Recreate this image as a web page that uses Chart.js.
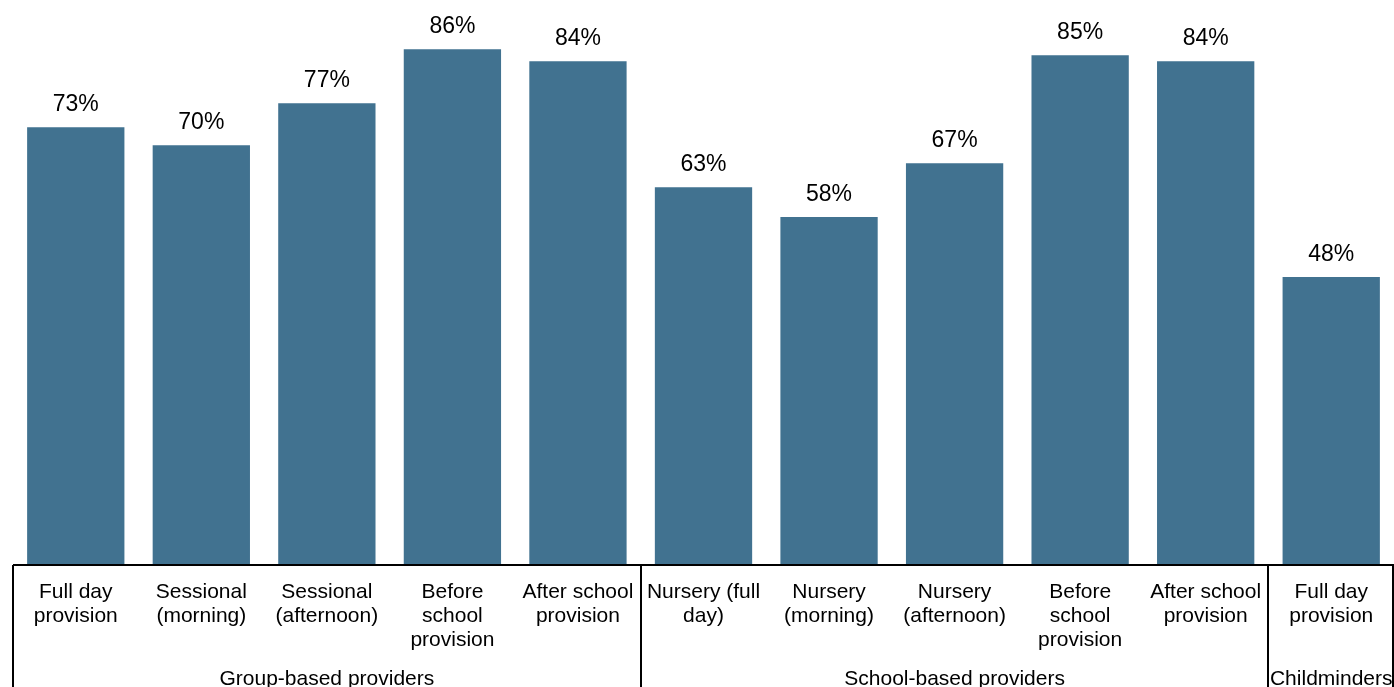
<!DOCTYPE html>
<html lang="en">
<head>
    <meta charset="UTF-8">
    <title>Provision by provider type</title>
    <script src="https://cdn.jsdelivr.net/npm/chart.js"></script>
    <style>
        html, body { margin: 0; padding: 0; background: #fff; }
        #wrap { width: 1394px; height: 687px; }
    </style>
</head>
<body>
    <div id="wrap"><canvas id="provChart" width="1394" height="687"></canvas></div>

    <script>
        const categories = [
            ['Full day', 'provision'],
            ['Sessional', '(morning)'],
            ['Sessional', '(afternoon)'],
            ['Before', 'school', 'provision'],
            ['After school', 'provision'],
            ['Nursery (full', 'day)'],
            ['Nursery', '(morning)'],
            ['Nursery', '(afternoon)'],
            ['Before', 'school', 'provision'],
            ['After school', 'provision'],
            ['Full day', 'provision']
        ];
        const values = [73, 70, 77, 86, 84, 63, 58, 67, 85, 84, 48];
        const groupNames = ['Group-based providers', 'School-based providers', 'Childminders'];
        const groupSizes = [5, 5, 1];

        const FONT = 'Arial, "Liberation Sans", sans-serif';

        // value labels above bars, group row and the bordered axis underneath
        const decorations = {
            id: 'decorations',
            afterDraw(chart) {
                const ctx = chart.ctx;
                const area = chart.chartArea;
                const x = chart.scales.x;
                const meta = chart.getDatasetMeta(0);
                ctx.save();

                ctx.fillStyle = '#000';
                ctx.font = '23px ' + FONT;
                ctx.textAlign = 'center';
                ctx.textBaseline = 'alphabetic';
                meta.data.forEach((bar, i) => {
                    ctx.fillText(values[i] + '%', bar.x, bar.y - 16);
                });

                const bottom = chart.height;
                const half = (x.getPixelForValue(1) - x.getPixelForValue(0)) / 2;
                ctx.strokeStyle = '#000';
                ctx.lineWidth = 2;
                ctx.beginPath();
                ctx.moveTo(area.left, area.bottom);
                ctx.lineTo(area.right, area.bottom);
                ctx.stroke();

                ctx.font = '21px ' + FONT;
                ctx.textBaseline = 'middle';
                let start = 0;
                groupSizes.forEach((n, g) => {
                    const l = x.getPixelForValue(start) - half;
                    const r = x.getPixelForValue(start + n - 1) + half;
                    ctx.beginPath();
                    ctx.moveTo(Math.round(l), area.bottom);
                    ctx.lineTo(Math.round(l), bottom);
                    ctx.stroke();
                    ctx.fillText(groupNames[g], (l + r) / 2, 679);
                    start += n;
                });
                ctx.beginPath();
                ctx.moveTo(area.right - 1, area.bottom);
                ctx.lineTo(area.right - 1, bottom);
                ctx.stroke();
                ctx.restore();
            }
        };

        new Chart(document.getElementById('provChart'), {
            type: 'bar',
            data: {
                labels: categories,
                datasets: [{
                    data: values,
                    backgroundColor: '#417290',
                    barPercentage: 1,
                    categoryPercentage: 0.775
                }]
            },
            options: {
                responsive: false,
                animation: false,
                layout: { padding: { left: 13, right: 0, top: 0, bottom: 0 } },
                plugins: {
                    legend: { display: false },
                    tooltip: { enabled: false }
                },
                scales: {
                    x: {
                        grid: { display: false },
                        border: { display: false },
                        ticks: {
                            color: '#000',
                            font: { family: FONT, size: 21, lineHeight: 1.15 },
                            maxRotation: 0,
                            autoSkip: false,
                            padding: 7
                        },
                        afterFit(scale) { scale.height = 122; }
                    },
                    y: {
                        display: false,
                        min: 0,
                        max: 94.2
                    }
                }
            },
            plugins: [decorations]
        });
    </script>
</body>
</html>
